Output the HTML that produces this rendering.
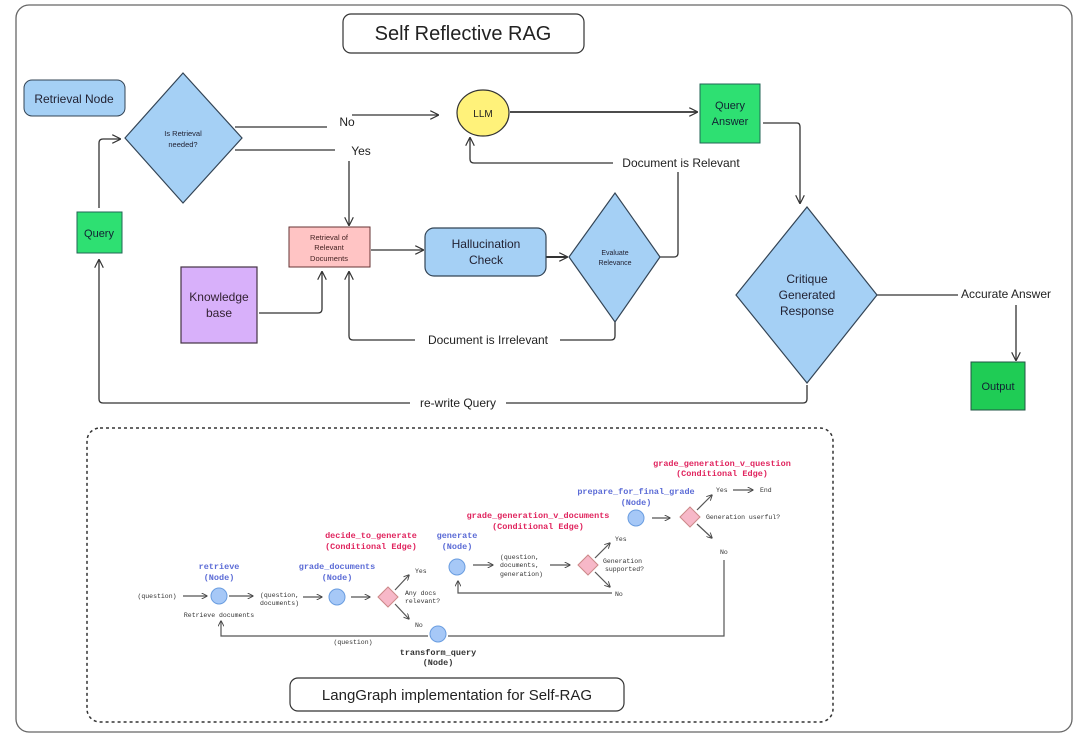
<!DOCTYPE html>
<html><head><meta charset="utf-8"><style>
html,body{margin:0;padding:0;background:#fff;}
svg{display:block;font-family:"Liberation Sans",sans-serif;}
.m{font-family:"Liberation Mono","DejaVu Sans Mono",monospace;}
</style></head><body>
<svg width="1080" height="739" viewBox="0 0 1080 739" xmlns="http://www.w3.org/2000/svg">
<defs>
<marker id="a" viewBox="0 0 10 10" refX="9" refY="5" markerWidth="9" markerHeight="9" orient="auto-start-reverse" markerUnits="userSpaceOnUse"><path d="M0,0 L10,5 L0,10" fill="none" stroke="#333" stroke-width="1.3"/></marker>
<marker id="s" viewBox="0 0 10 10" refX="9" refY="5" markerWidth="6" markerHeight="6" orient="auto" markerUnits="userSpaceOnUse"><path d="M0,0 L10,5 L0,10" fill="none" stroke="#444" stroke-width="1.5"/></marker>
</defs>
<rect x="16" y="5" width="1056" height="727" rx="13" fill="#fff" stroke="#666" stroke-width="1.3"/>
<rect x="343" y="14" width="241" height="39" rx="8" fill="#fff" stroke="#333" stroke-width="1.2"/>
<text x="463" y="40" font-size="20" text-anchor="middle" fill="#222">Self Reflective RAG</text>

<g stroke="#333" stroke-width="1.3" fill="none">
<path d="M235,127 H327"/><path d="M352,115 H438" marker-end="url(#a)"/>
<path d="M235,150 H335"/><path d="M349,161 V225" marker-end="url(#a)"/>
<path d="M99,208 V143 Q99,139 103,139 H120" marker-end="url(#a)"/>
<path d="M510,112 H697" marker-end="url(#a)" stroke-width="1.8"/>
<path d="M763,123 H797 Q800,123 800,127 V203" marker-end="url(#a)"/>
<path d="M660,257 H674 Q678,257 678,253 V172"/>
<path d="M613,163 H474 Q470,163 470,159 V138" marker-end="url(#a)"/>
<path d="M371,250 H423" marker-end="url(#a)"/>
<path d="M546,257 H567" marker-end="url(#a)" stroke-width="2"/>
<path d="M259,313 H318 Q322,313 322,309 V272" marker-end="url(#a)"/>
<path d="M615,322 V336 Q615,340 611,340 H560"/>
<path d="M415,340 H353 Q349,340 349,336 V272" marker-end="url(#a)"/>
<path d="M807,385 V399 Q807,403 803,403 H506"/>
<path d="M410,403 H103 Q99,403 99,399 V260" marker-end="url(#a)"/>
<path d="M877,295 H958"/>
<path d="M1016,305 V360" marker-end="url(#a)"/>
</g>
<g font-size="12" fill="#222">
<text x="347" y="126" text-anchor="middle">No</text>
<text x="361" y="155" text-anchor="middle">Yes</text>
<text x="681" y="167" text-anchor="middle">Document is Relevant</text>
<text x="488" y="344" text-anchor="middle">Document is Irrelevant</text>
<text x="458" y="407" text-anchor="middle">re-write Query</text>
<text x="1006" y="298" text-anchor="middle">Accurate Answer</text>
</g>

<rect x="24" y="80" width="101" height="36" rx="8" fill="#a5d0f5" stroke="#345" stroke-width="1"/>
<text x="74" y="103" font-size="12" text-anchor="middle" fill="#223">Retrieval Node</text>
<polygon points="125,138 183,73 242,138 183,203" fill="#a5d0f5" stroke="#345" stroke-width="1.2"/>
<text x="183" y="136" font-size="7.5" text-anchor="middle" fill="#223">Is Retrieval</text>
<text x="183" y="147" font-size="7.5" text-anchor="middle" fill="#223">needed?</text>
<rect x="77" y="212" width="45" height="41" fill="#2ee072" stroke="#265" stroke-width="1"/>
<text x="99" y="237" font-size="11" text-anchor="middle" fill="#123">Query</text>
<ellipse cx="483" cy="113" rx="26" ry="23" fill="#fff27a" stroke="#333" stroke-width="1.2"/>
<text x="483" y="117" font-size="10" text-anchor="middle" fill="#222">LLM</text>
<rect x="700" y="84" width="60" height="59" fill="#2ee072" stroke="#265" stroke-width="1"/>
<text x="730" y="109" font-size="11" text-anchor="middle" fill="#123">Query</text>
<text x="730" y="125" font-size="11" text-anchor="middle" fill="#123">Answer</text>
<rect x="289" y="227" width="81" height="40" fill="#ffc4c4" stroke="#633" stroke-width="1"/>
<text x="329" y="240" font-size="7.5" text-anchor="middle" fill="#422">Retrieval of</text>
<text x="329" y="250" font-size="7.5" text-anchor="middle" fill="#422">Relevant</text>
<text x="329" y="261" font-size="7.5" text-anchor="middle" fill="#422">Documents</text>
<rect x="425" y="228" width="121" height="48" rx="9" fill="#a5d0f5" stroke="#345" stroke-width="1.2"/>
<text x="486" y="248" font-size="12" text-anchor="middle" fill="#223">Hallucination</text>
<text x="486" y="264" font-size="12" text-anchor="middle" fill="#223">Check</text>
<polygon points="569,257 615,193 660,257 615,322" fill="#a5d0f5" stroke="#345" stroke-width="1.2"/>
<text x="615" y="255" font-size="7" text-anchor="middle" fill="#223">Evaluate</text>
<text x="615" y="265" font-size="7" text-anchor="middle" fill="#223">Relevance</text>
<rect x="181" y="267" width="76" height="76" fill="#d8b0fa" stroke="#434" stroke-width="1.2"/>
<text x="219" y="301" font-size="12" text-anchor="middle" fill="#323">Knowledge</text>
<text x="219" y="317" font-size="12" text-anchor="middle" fill="#323">base</text>
<polygon points="736,295 807,207 877,295 807,383" fill="#a5d0f5" stroke="#345" stroke-width="1.2"/>
<text x="807" y="283" font-size="12" text-anchor="middle" fill="#223">Critique</text>
<text x="807" y="299" font-size="12" text-anchor="middle" fill="#223">Generated</text>
<text x="807" y="315" font-size="12" text-anchor="middle" fill="#223">Response</text>
<rect x="971" y="362" width="54" height="48" fill="#1fcc55" stroke="#254" stroke-width="1"/>
<text x="998" y="390" font-size="11" text-anchor="middle" fill="#123">Output</text>

<rect x="87" y="428" width="746" height="294" rx="13" fill="none" stroke="#333" stroke-width="1.5" stroke-dasharray="3,3"/>
<rect x="290" y="678" width="334" height="33" rx="8" fill="#fff" stroke="#333" stroke-width="1.2"/>
<text x="457" y="700" font-size="15" text-anchor="middle" fill="#222">LangGraph implementation for Self-RAG</text>

<g stroke="#555" stroke-width="1.2" fill="none">
<path d="M183,596 H207" marker-end="url(#s)"/>
<path d="M229,596 H253" marker-end="url(#s)"/>
<path d="M303,597 H322" marker-end="url(#s)"/>
<path d="M351,597 H370" marker-end="url(#s)"/>
<path d="M395,590 L409,575" marker-end="url(#s)"/>
<path d="M395,604 L409,619" marker-end="url(#s)"/>
<path d="M428,636 H221 V621" marker-end="url(#s)"/>
<path d="M448,636 H724 V560"/>
<path d="M473,565 H493" marker-end="url(#s)"/>
<path d="M550,565 H570" marker-end="url(#s)"/>
<path d="M595,558 L610,543" marker-end="url(#s)"/>
<path d="M595,572 L610,587" marker-end="url(#s)"/>
<path d="M612,593 H458 V581" marker-end="url(#s)"/>
<path d="M652,518 H670" marker-end="url(#s)"/>
<path d="M697,510 L712,495" marker-end="url(#s)"/>
<path d="M697,524 L712,538" marker-end="url(#s)"/>
<path d="M733,490 H753" marker-end="url(#s)"/>
</g>
<g fill="#a6c8f7" stroke="#6a9de0" stroke-width="1">
<circle cx="219" cy="596" r="8"/><circle cx="337" cy="597" r="8"/><circle cx="438" cy="634" r="8"/>
<circle cx="457" cy="567" r="8"/><circle cx="636" cy="518" r="8"/>
</g>
<g fill="#f7b8c8" stroke="#c88" stroke-width="1">
<polygon points="378,597 388,587 398,597 388,607"/>
<polygon points="578,565 588,555 598,565 588,575"/>
<polygon points="680,517 690,507 700,517 690,527"/>
</g>
<g class="m" font-size="6.5" fill="#333">
<text x="157" y="598" text-anchor="middle">(question)</text>
<text x="219" y="617" text-anchor="middle">Retrieve documents</text>
<text x="260" y="597">(question,</text><text x="260" y="605">documents)</text>
<text x="415" y="573">Yes</text><text x="415" y="627">No</text>
<text x="405" y="595">Any docs</text><text x="405" y="603">relevant?</text>
<text x="353" y="644" text-anchor="middle">(question)</text>
<text x="500" y="559">(question,</text><text x="500" y="567">documents,</text><text x="500" y="576">generation)</text>
<text x="615" y="541">Yes</text><text x="615" y="596">No</text>
<text x="603" y="563">Generation</text><text x="605" y="571">supported?</text>
<text x="716" y="492">Yes</text><text x="760" y="492">End</text>
<text x="706" y="519">Generation userful?</text>
<text x="720" y="554">No</text>
</g>
<g class="m" font-size="8.5" text-anchor="middle" fill="#5b6bd6" font-weight="bold">
<text x="219" y="569">retrieve</text><text x="219" y="580">(Node)</text>
<text x="337" y="569">grade_documents</text><text x="337" y="580">(Node)</text>
<text x="457" y="538">generate</text><text x="457" y="549">(Node)</text>
<text x="636" y="494">prepare_for_final_grade</text><text x="636" y="505">(Node)</text>
</g>
<g class="m" font-size="8.5" text-anchor="middle" fill="#333" font-weight="bold">
<text x="438" y="655">transform_query</text><text x="438" y="665">(Node)</text>
</g>
<g class="m" font-size="8.5" text-anchor="middle" fill="#e0245e" font-weight="bold">
<text x="371" y="538">decide_to_generate</text><text x="371" y="549">(Conditional Edge)</text>
<text x="538" y="518">grade_generation_v_documents</text><text x="538" y="529">(Conditional Edge)</text>
<text x="722" y="466">grade_generation_v_question</text><text x="722" y="476">(Conditional Edge)</text>
</g>
</svg>
</body></html>
